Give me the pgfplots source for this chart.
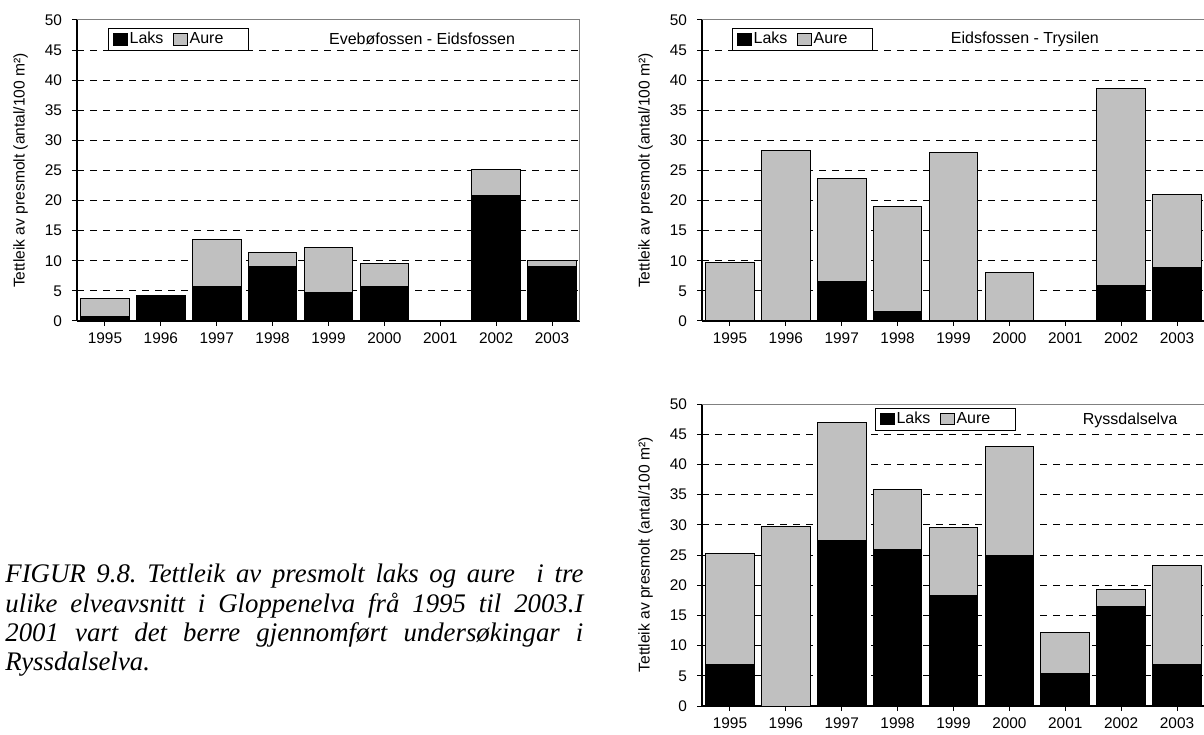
\documentclass[border=0pt]{standalone}
\usepackage{fontspec}
\setmainfont{Liberation Sans}
\newfontfamily\capfont{Liberation Serif}
\usepackage{pgfplots}
\usepackage{pgfplotstable}
\pgfplotsset{compat=1.18}

\definecolor{aure}{HTML}{C0C0C0}

% Presmolt density (antal/100 m2): x = 0 (1995) ... 8 (2003)
\pgfplotstableread{
x laks aure
0 0.7 3.0
1 4.2 0.0
2 5.8 7.8
3 9.1 2.3
4 4.7 7.5
5 5.8 3.7
7 20.9 4.3
8 9.1 0.9
}\evebo

\pgfplotstableread{
x laks aure
0 0.0 9.7
1 0.0 28.3
2 6.6 17.0
3 1.5 17.6
4 0.0 28.0
5 0.0 8.0
7 5.9 32.8
8 8.9 12.1
}\trysil

\pgfplotstableread{
x laks aure
0 6.9 18.3
1 0.0 29.8
2 27.4 19.5
3 25.9 10.0
4 18.3 11.3
5 25.0 18.0
6 5.3 6.8
7 16.5 2.8
8 6.9 16.3
}\ryss

\pgfplotsset{
  sqleg/.style={legend image code/.code={\draw[##1] (0pt,-2.8pt) rectangle (7.4pt,2.8pt);}},
  panel/.style={
    scale only axis, width=251.5pt, height=150.5pt,
    ybar stacked, bar width=24.3pt,
    xmin=-0.5, xmax=8.5, ymin=0, ymax=50,
    xtick={0,1,2,3,4,5,6,7,8},
    xticklabels={1995,1996,1997,1998,1999,2000,2001,2002,2003},
    ytick={0,5,...,50},
    axis lines=left, axis line style={-, black, line width=0.6pt},
    tick align=outside, major tick length=2.5pt,
    tick style={black, line width=0.5pt},
    ymajorgrids, grid style={black, line width=0.5pt, dash pattern=on 3.5pt off 3pt},
    tick label style={font=\fontsize{7.7}{9}\selectfont},
    yticklabel style={xshift=-1.5pt},
    /pgf/number format/assume math mode=true,
    ylabel={Tettleik av presmolt (antal/100 m²)},
    every axis y label/.style={at={(axis description cs:-0.112,0.5)}, rotate=90, anchor=center, font=\fontsize{7.8}{9}\selectfont},
    legend columns=2,
    legend style={draw=black, fill=white, line width=0.5pt,
      font=\fontsize{8}{9}\selectfont, inner xsep=2pt, inner ysep=1.2pt,
      /tikz/every even column/.append style={column sep=4pt},
      nodes={inner sep=0.6pt}},
  },
  laksbar/.style={sqleg, fill=black, draw=black, line width=0.5pt},
  aurebar/.style={sqleg, fill=aure, draw=black, line width=0.5pt},
}

\begin{document}
\frenchspacing
\begin{tikzpicture}
\useasboundingbox (0pt,0pt) rectangle (602pt,367pt);

% Evebøfossen - Eidsfossen
\begin{axis}[panel, at={(38.5pt,206.5pt)}, anchor=south west,
  legend style={at={(0.062,0.973)}, anchor=north west}]
  \addplot[laksbar] table[x=x, y=laks] {\evebo};
  \addplot[aurebar] table[x=x, y=aure] {\evebo};
  \legend{Laks, Aure\hspace*{10pt}}
  \draw[gray, line width=0.5pt] (rel axis cs:0,1) -- (rel axis cs:1,1) -- (rel axis cs:1,0);
  \node[font=\fontsize{8}{9}\selectfont] at (axis description cs:0.686,0.937) {Evebøfossen - Eidsfossen};
\end{axis}

% Eidsfossen - Trysilen
\begin{axis}[panel, at={(351pt,206.5pt)}, anchor=south west,
  legend style={at={(0.06,0.973)}, anchor=north west}]
  \addplot[laksbar] table[x=x, y=laks] {\trysil};
  \addplot[aurebar] table[x=x, y=aure] {\trysil};
  \legend{Laks, Aure\hspace*{10pt}}
  \draw[gray, line width=0.5pt] (rel axis cs:0,1) -- (rel axis cs:1,1) -- (rel axis cs:1,0);
  \node[font=\fontsize{8}{9}\selectfont] at (axis description cs:0.642,0.937) {Eidsfossen - Trysilen};
\end{axis}

% Ryssdalselva
\begin{axis}[panel, height=151pt, at={(351pt,14pt)}, anchor=south west,
  legend style={at={(0.344,0.987)}, anchor=north west}]
  \addplot[laksbar] table[x=x, y=laks] {\ryss};
  \addplot[aurebar] table[x=x, y=aure] {\ryss};
  \legend{Laks, Aure\hspace*{10pt}}
  \draw[gray, line width=0.5pt] (rel axis cs:0,1) -- (rel axis cs:1,1) -- (rel axis cs:1,0);
  \node[font=\fontsize{8}{9}\selectfont] at (axis description cs:0.851,0.947) {Ryssdalselva};
\end{axis}

% Figure caption
\node[anchor=north west, inner sep=0pt, text width=289pt, align=justify,
  font=\capfont\itshape\fontsize{13.4}{14.6}\selectfont] at (2.5pt,85pt)
  {FIGUR 9.8. Tettleik av presmolt laks og aure\ \ i tre\linebreak
   ulike elveavsnitt i Gloppenelva frå 1995 til 2003.I\linebreak
   2001 vart det berre gjennomført undersøkingar i\linebreak
   Ryssdalselva.};
\end{tikzpicture}
\end{document}
